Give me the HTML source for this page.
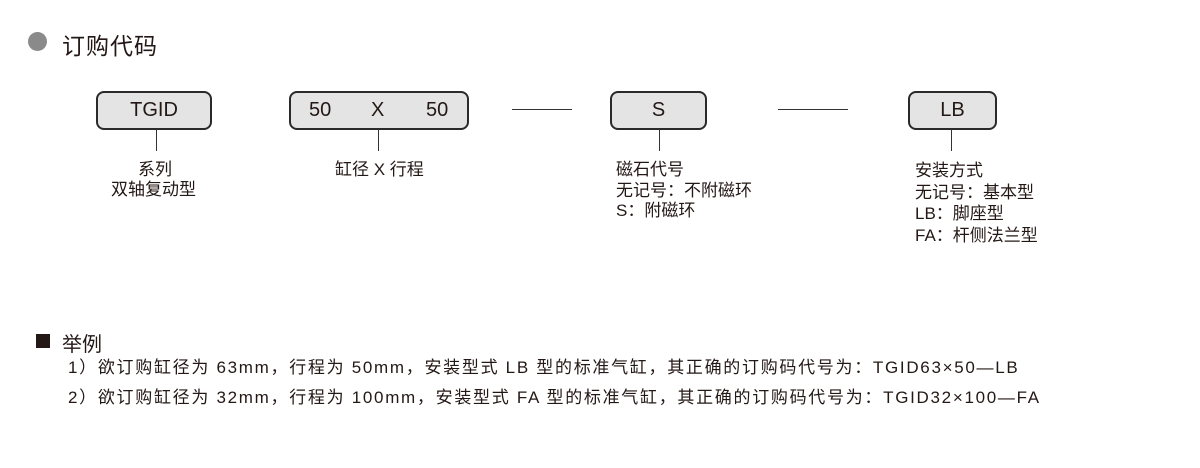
<!DOCTYPE html>
<html><head><meta charset="utf-8"><style>
body{margin:0;width:1200px;height:468px;background:#fff;position:relative;overflow:hidden;font-family:"Liberation Sans","Noto Sans CJK SC",sans-serif;color:#231815}
.a{position:absolute;white-space:nowrap}
.box{position:absolute;top:91px;height:35px;border:2px solid #2a2a2a;border-radius:8px;background:#e4e4e4;font-size:20px;line-height:35px;text-align:center}
.v{position:absolute;top:129px;height:22px;width:1px;background:#333}
.h{position:absolute;top:109px;height:1px;background:#333}
.t{position:absolute;font-size:17px;line-height:20.5px;white-space:nowrap}
.b{position:absolute;font-size:17px;line-height:20px;white-space:nowrap;letter-spacing:1.7px}
</style></head><body>
<div class="a" style="left:28px;top:32px;width:19px;height:19px;border-radius:50%;background:#8a8a8a"></div>
<div class="a" style="left:62px;top:27px;font-size:23px;letter-spacing:1px">订购代码</div>

<div class="box" style="left:96px;width:112px">TGID</div>
<div class="box" style="left:289px;width:176px"><span style="position:absolute;left:18px">50</span><span style="position:absolute;left:80px">X</span><span style="position:absolute;left:135px">50</span></div>
<div class="h" style="left:512px;width:60px"></div>
<div class="box" style="left:610px;width:93px">S</div>
<div class="h" style="left:778px;width:70px"></div>
<div class="box" style="left:908px;width:85px">LB</div>

<div class="v" style="left:156px"></div>
<div class="v" style="left:378px"></div>
<div class="v" style="left:659px"></div>
<div class="v" style="left:951px"></div>

<div class="t" style="left:138px;top:160px">系列</div>
<div class="t" style="left:111px;top:180px">双轴复动型</div>
<div class="t" style="left:335px;top:160px">缸径 X 行程</div>
<div class="t" style="left:616px;top:160px">磁石代号<br>无记号：不附磁环<br>S：附磁环</div>
<div class="t" style="left:915px;top:160px;line-height:21.5px">安装方式<br>无记号：基本型<br>LB：脚座型<br>FA：杆侧法兰型</div>

<div class="a" style="left:36px;top:334px;width:14px;height:14px;background:#231815"></div>
<div class="a" style="left:62px;top:328px;font-size:20px">举例</div>
<div class="b" style="left:68px;top:358px">1）欲订购缸径为 63mm，行程为 50mm，安装型式 LB 型的标准气缸，其正确的订购码代号为：TGID63×50—LB</div>
<div class="b" style="left:68px;top:388px">2）欲订购缸径为 32mm，行程为 100mm，安装型式 FA 型的标准气缸，其正确的订购码代号为：TGID32×100—FA</div>
</body></html>
